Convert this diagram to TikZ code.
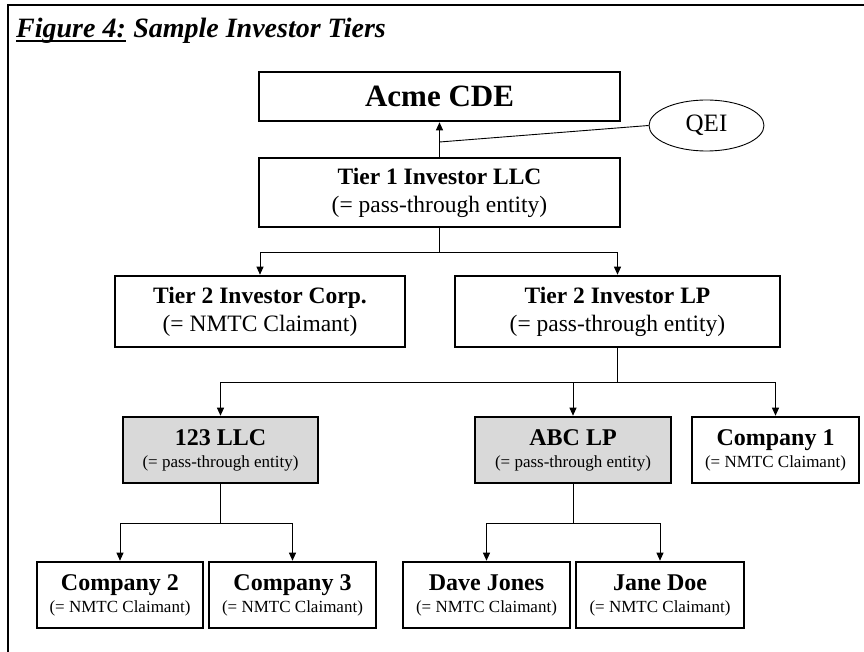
\documentclass[tikz,border=0pt]{standalone}
\usepackage{fontspec}
\setmainfont{Liberation Serif}
\usetikzlibrary{arrows.meta,shapes.geometric}
\begin{document}
\begin{tikzpicture}[x=1pt,y=-1pt,
  box/.style={draw,line width=2.6pt,rectangle,align=center,inner sep=0pt,fill=white},
  bigtxt/.style={font=\fontsize{23.5}{28}\selectfont},
  smalltxt/.style={font=\fontsize{24}{22}\selectfont},
  gray/.style={fill=boxgray},
  conn/.style={line width=0.9pt},
  arr/.style={conn,-{Triangle[length=8pt,width=7pt]}},
  frame/.style={line width=2.6pt},
  titletxt/.style={inner sep=0pt,font=\fontsize{28}{30}\selectfont\bfseries\itshape}
]
\definecolor{boxgray}{HTML}{D9D9D9}
\useasboundingbox (0,0) rectangle (864,652);
% frame
\draw[frame] (8,652) -- (8,5) -- (864,5);
% title
\node[titletxt,anchor=base west] (fig) at (16,38) {Figure 4:};
\node[titletxt,anchor=base west] (rest) at ([xshift=7pt]fig.base east) {Sample Investor Tiers};
\draw[line width=1.8pt] ([yshift=-3pt]fig.base west) -- ([yshift=-3pt]fig.base east);

% nodes
\node[box,minimum width=361,minimum height=49,font=\fontsize{31}{33}\selectfont\bfseries] (acme) at (439.5,96.5) {Acme CDE};
\node[draw,ellipse,line width=0.9pt,minimum width=115,minimum height=51,inner sep=0pt,font=\fontsize{25}{27}\selectfont] (qei) at (706.5,125.5) {QEI};
\node[box,bigtxt,minimum width=361,minimum height=69] (tier1) at (439.5,192.5) {\textbf{Tier 1 Investor LLC}\\(= pass-through entity)};
\node[box,bigtxt,minimum width=290,minimum height=71] (t2corp) at (260,311.5) {\textbf{Tier 2 Investor Corp.}\\(= NMTC Claimant)};
\node[box,bigtxt,minimum width=325,minimum height=71] (t2lp) at (617.5,311.5) {\textbf{Tier 2 Investor LP}\\(= pass-through entity)};
\node[box,gray,smalltxt,minimum width=195,minimum height=66] (llc) at (220.5,450) {\textbf{123 LLC}\\{\fontsize{17}{20}\selectfont (= pass-through entity)}};
\node[box,gray,smalltxt,minimum width=196,minimum height=66] (abc) at (573,450) {\textbf{ABC LP}\\{\fontsize{17}{20}\selectfont (= pass-through entity)}};
\node[box,smalltxt,minimum width=167,minimum height=66] (c1) at (775.5,450) {\textbf{Company 1}\\{\fontsize{17}{20}\selectfont (= NMTC Claimant)}};
\node[box,smalltxt,minimum width=166,minimum height=66] (c2) at (120,595) {\textbf{Company 2}\\{\fontsize{17}{20}\selectfont (= NMTC Claimant)}};
\node[box,smalltxt,minimum width=167,minimum height=66] (c3) at (292.5,595) {\textbf{Company 3}\\{\fontsize{17}{20}\selectfont (= NMTC Claimant)}};
\node[box,smalltxt,minimum width=167,minimum height=66] (dave) at (486.5,595) {\textbf{Dave Jones}\\{\fontsize{17}{20}\selectfont (= NMTC Claimant)}};
\node[box,smalltxt,minimum width=168,minimum height=66] (jane) at (660,595) {\textbf{Jane Doe}\\{\fontsize{17}{20}\selectfont (= NMTC Claimant)}};

% connectors
\draw[arr] (tier1.north) -- (acme.south);
\coordinate (q) at (439.5,142);
\draw[conn] (q) -- (qei.west);

\coordinate (b1) at (439.5,252);
\draw[conn] (tier1.south) -- (b1);
\draw[arr] (b1) -| (t2corp.north);
\draw[arr] (b1) -| (t2lp.north);

\coordinate (b2) at (617.5,382);
\draw[conn] (t2lp.south) -- (b2);
\draw[arr] (b2) -| (llc.north);
\draw[arr] (b2) -| (abc.north);
\draw[arr] (b2) -| (c1.north);

\coordinate (b3) at (220.5,523);
\draw[conn] (llc.south) -- (b3);
\draw[arr] (b3) -| (c2.north);
\draw[arr] (b3) -| (c3.north);

\coordinate (b4) at (573,523);
\draw[conn] (abc.south) -- (b4);
\draw[arr] (b4) -| (dave.north);
\draw[arr] (b4) -| (jane.north);
\end{tikzpicture}
\end{document}
